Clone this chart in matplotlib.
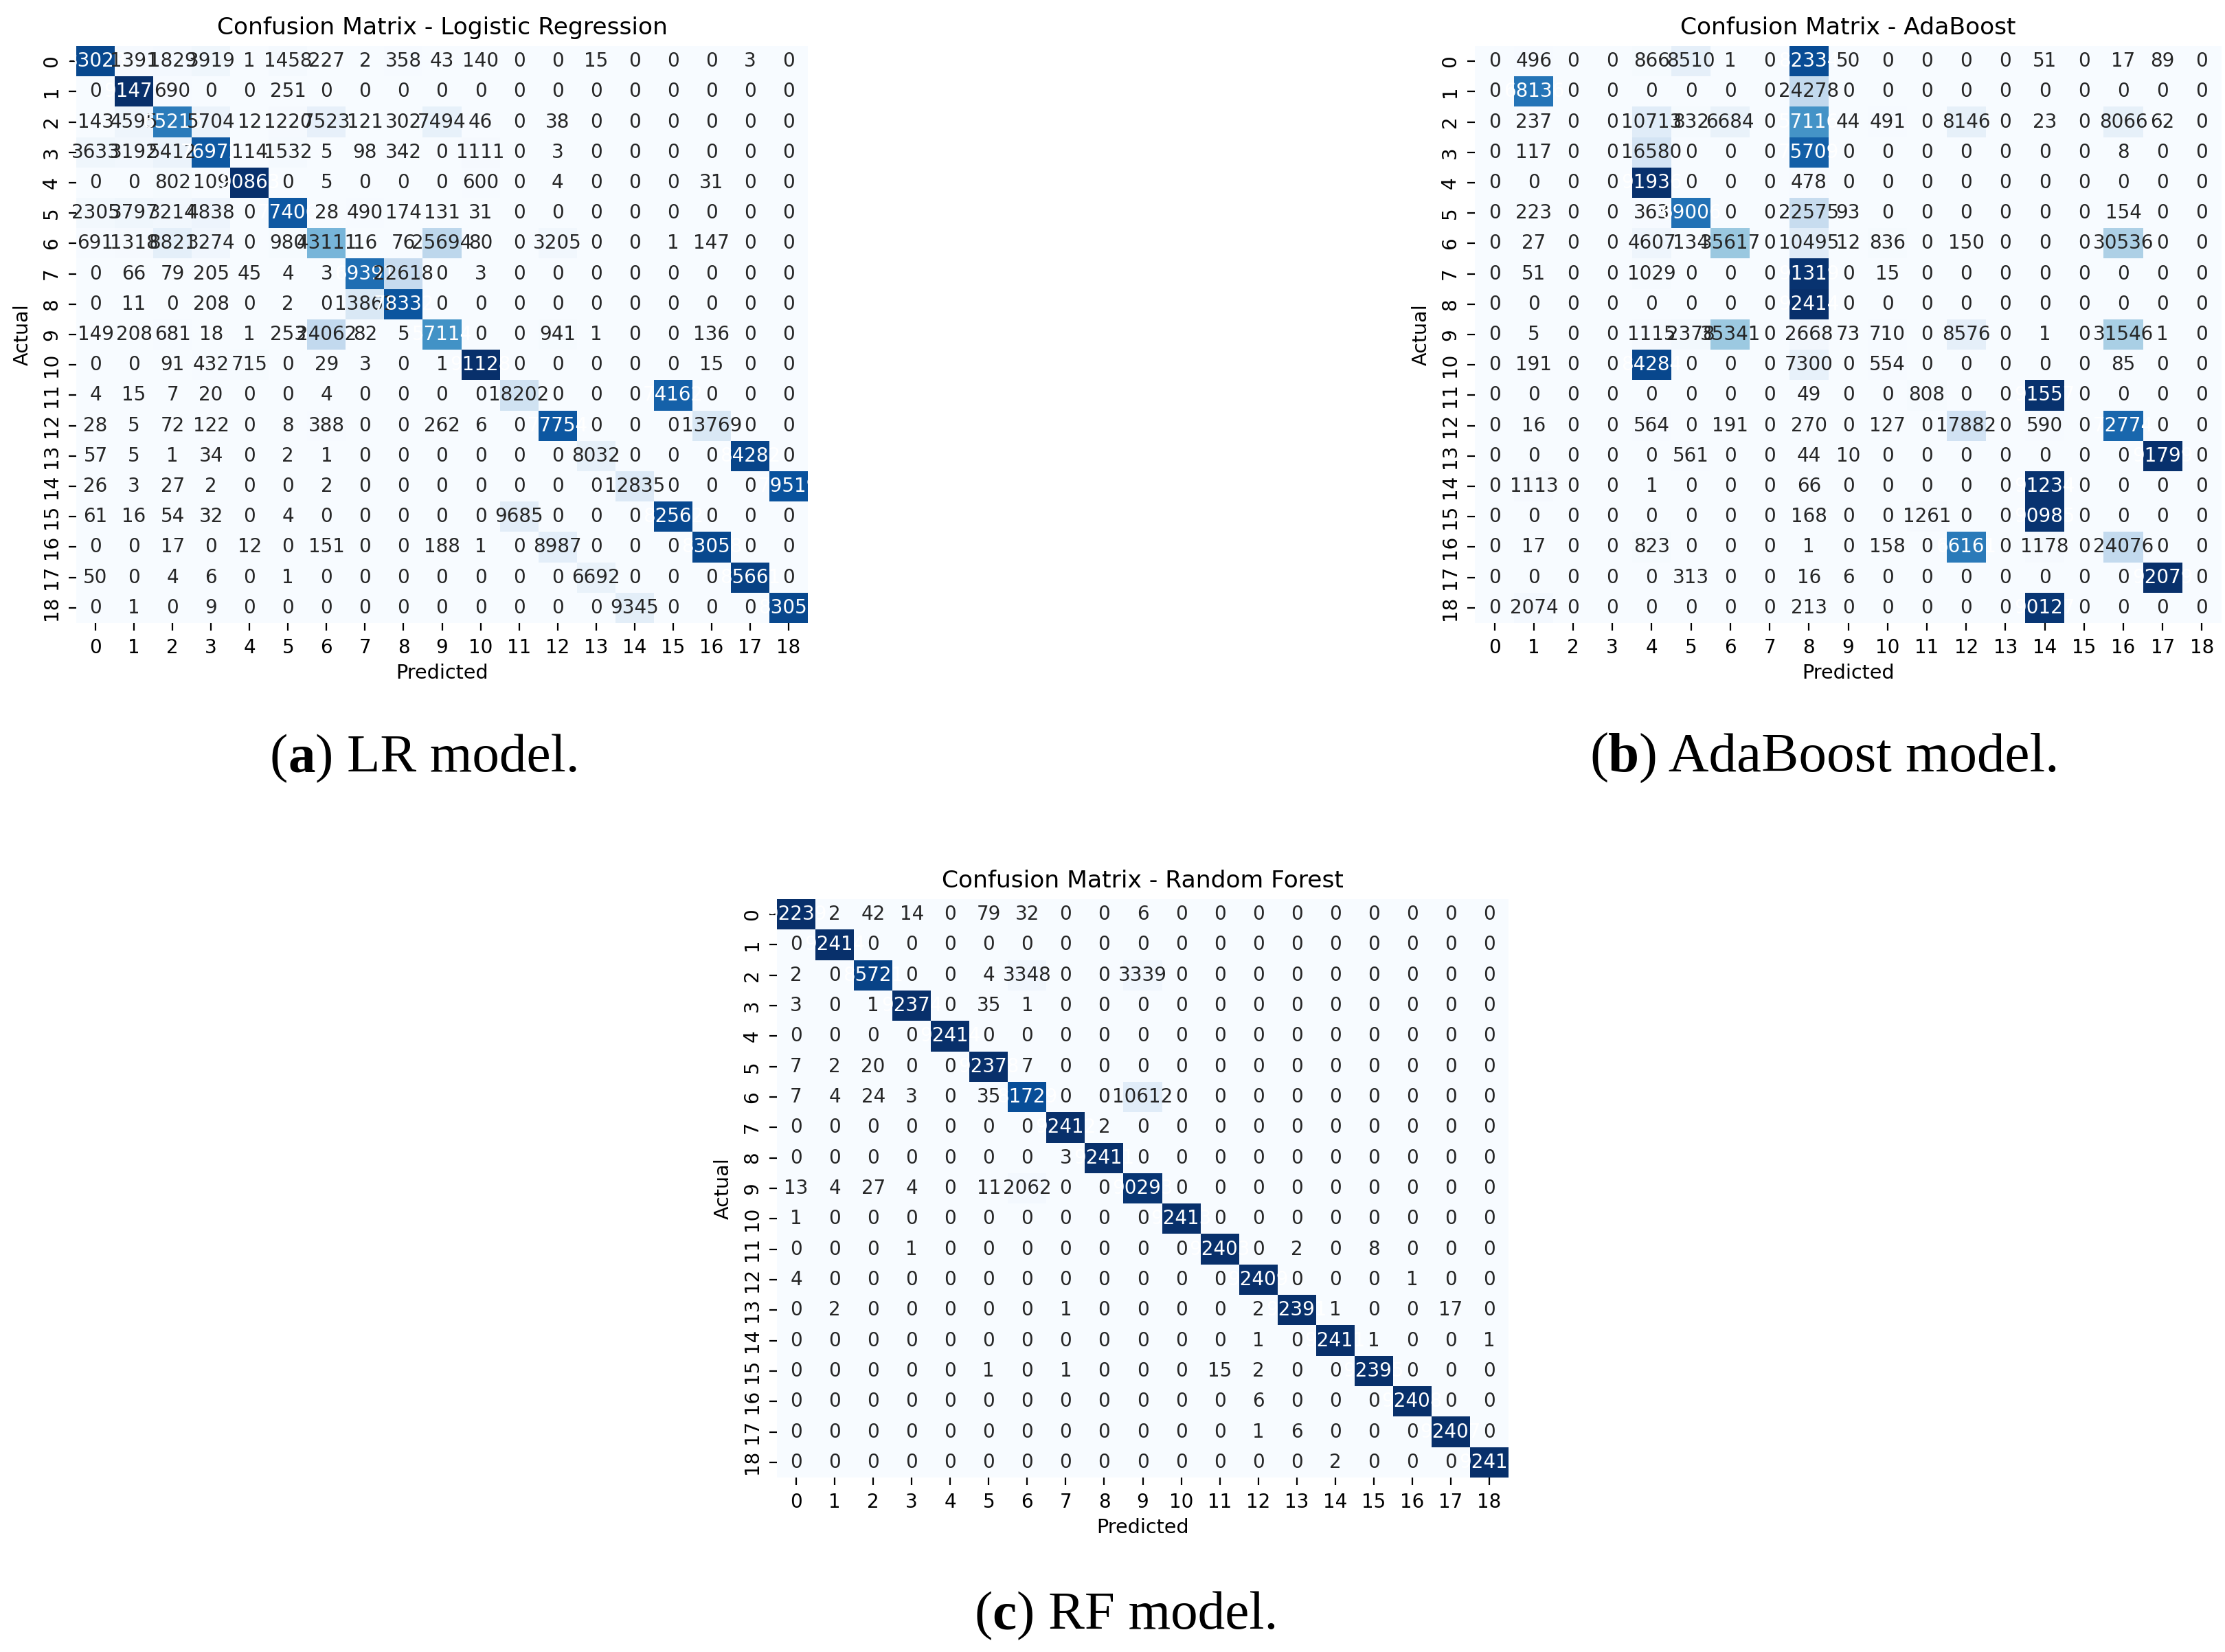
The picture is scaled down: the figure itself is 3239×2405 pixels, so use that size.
import matplotlib
matplotlib.use('Agg')

import matplotlib.pyplot as plt
import numpy as np
import seaborn as sns

W, H = 3239, 2405

labels = list(range(19))

cm_lr = np.array([
    [83028, 1391, 1829, 3919, 1, 1458, 227, 2, 358, 43, 140, 0, 0, 15, 0, 0, 0, 3, 0],
    [0, 91473, 690, 0, 0, 251, 0, 0, 0, 0, 0, 0, 0, 0, 0, 0, 0, 0, 0],
    [143, 4595, 65216, 5704, 12, 1220, 7523, 121, 302, 7494, 46, 0, 38, 0, 0, 0, 0, 0, 0],
    [3633, 3192, 5412, 76972, 114, 1532, 5, 98, 342, 0, 1111, 0, 3, 0, 0, 0, 0, 0, 0],
    [0, 0, 802, 109, 90863, 0, 5, 0, 0, 0, 600, 0, 4, 0, 0, 0, 31, 0, 0],
    [2305, 3797, 3214, 4838, 0, 77406, 28, 490, 174, 131, 31, 0, 0, 0, 0, 0, 0, 0, 0],
    [691, 1318, 8821, 3274, 0, 980, 43111, 16, 76, 25694, 80, 0, 3205, 0, 0, 1, 147, 0, 0],
    [0, 66, 79, 205, 45, 4, 3, 69391, 22618, 0, 3, 0, 0, 0, 0, 0, 0, 0, 0],
    [0, 11, 0, 208, 0, 2, 0, 13861, 78332, 0, 0, 0, 0, 0, 0, 0, 0, 0, 0],
    [149, 208, 681, 18, 1, 253, 24062, 82, 5, 57114, 0, 0, 941, 1, 0, 0, 136, 0, 0],
    [0, 0, 91, 432, 715, 0, 29, 3, 0, 1, 91128, 0, 0, 0, 0, 0, 15, 0, 0],
    [4, 15, 7, 20, 0, 0, 4, 0, 0, 0, 0, 18202, 0, 0, 0, 74162, 0, 0, 0],
    [28, 5, 72, 122, 0, 8, 388, 0, 0, 262, 6, 0, 77754, 0, 0, 0, 13769, 0, 0],
    [57, 5, 1, 34, 0, 2, 1, 0, 0, 0, 0, 0, 0, 8032, 0, 0, 0, 84282, 0],
    [26, 3, 27, 2, 0, 0, 2, 0, 0, 0, 0, 0, 0, 0, 12835, 0, 0, 0, 79519],
    [61, 16, 54, 32, 0, 4, 0, 0, 0, 0, 0, 9685, 0, 0, 0, 82562, 0, 0, 0],
    [0, 0, 17, 0, 12, 0, 151, 0, 0, 188, 1, 0, 8987, 0, 0, 0, 83058, 0, 0],
    [50, 0, 4, 6, 0, 1, 0, 0, 0, 0, 0, 0, 0, 6692, 0, 0, 0, 85661, 0],
    [0, 1, 0, 9, 0, 0, 0, 0, 0, 0, 0, 0, 0, 0, 9345, 0, 0, 0, 83059],
])

cm_ada = np.array([
    [0, 496, 0, 0, 866, 8510, 1, 0, 82334, 50, 0, 0, 0, 0, 51, 0, 17, 89, 0],
    [0, 68136, 0, 0, 0, 0, 0, 0, 24278, 0, 0, 0, 0, 0, 0, 0, 0, 0, 0],
    [0, 237, 0, 0, 10713, 832, 6684, 0, 57116, 44, 491, 0, 8146, 0, 23, 0, 8066, 62, 0],
    [0, 117, 0, 0, 16580, 0, 0, 0, 75709, 0, 0, 0, 0, 0, 0, 0, 8, 0, 0],
    [0, 0, 0, 0, 91936, 0, 0, 0, 478, 0, 0, 0, 0, 0, 0, 0, 0, 0, 0],
    [0, 223, 0, 0, 363, 69006, 0, 0, 22575, 93, 0, 0, 0, 0, 0, 0, 154, 0, 0],
    [0, 27, 0, 0, 4607, 134, 35617, 0, 10495, 12, 836, 0, 150, 0, 0, 0, 30536, 0, 0],
    [0, 51, 0, 0, 1029, 0, 0, 0, 91319, 0, 15, 0, 0, 0, 0, 0, 0, 0, 0],
    [0, 0, 0, 0, 0, 0, 0, 0, 92414, 0, 0, 0, 0, 0, 0, 0, 0, 0, 0],
    [0, 5, 0, 0, 1115, 2378, 35341, 0, 2668, 73, 710, 0, 8576, 0, 1, 0, 31546, 1, 0],
    [0, 191, 0, 0, 84284, 0, 0, 0, 7300, 0, 554, 0, 0, 0, 0, 0, 85, 0, 0],
    [0, 0, 0, 0, 0, 0, 0, 0, 49, 0, 0, 808, 0, 0, 91557, 0, 0, 0, 0],
    [0, 16, 0, 0, 564, 0, 191, 0, 270, 0, 127, 0, 17882, 0, 590, 0, 72774, 0, 0],
    [0, 0, 0, 0, 0, 561, 0, 0, 44, 10, 0, 0, 0, 0, 0, 0, 0, 91799, 0],
    [0, 1113, 0, 0, 1, 0, 0, 0, 66, 0, 0, 0, 0, 0, 91234, 0, 0, 0, 0],
    [0, 0, 0, 0, 0, 0, 0, 0, 168, 0, 0, 1261, 0, 0, 90985, 0, 0, 0, 0],
    [0, 17, 0, 0, 823, 0, 0, 0, 1, 0, 158, 0, 66161, 0, 1178, 0, 24076, 0, 0],
    [0, 0, 0, 0, 0, 313, 0, 0, 16, 6, 0, 0, 0, 0, 0, 0, 0, 92079, 0],
    [0, 2074, 0, 0, 0, 0, 0, 0, 213, 0, 0, 0, 0, 0, 90127, 0, 0, 0, 0],
])

cm_rf = np.array([
    [92239, 2, 42, 14, 0, 79, 32, 0, 0, 6, 0, 0, 0, 0, 0, 0, 0, 0, 0],
    [0, 92414, 0, 0, 0, 0, 0, 0, 0, 0, 0, 0, 0, 0, 0, 0, 0, 0, 0],
    [2, 0, 85721, 0, 0, 4, 3348, 0, 0, 3339, 0, 0, 0, 0, 0, 0, 0, 0, 0],
    [3, 0, 1, 92374, 0, 35, 1, 0, 0, 0, 0, 0, 0, 0, 0, 0, 0, 0, 0],
    [0, 0, 0, 0, 92414, 0, 0, 0, 0, 0, 0, 0, 0, 0, 0, 0, 0, 0, 0],
    [7, 2, 20, 0, 0, 92378, 7, 0, 0, 0, 0, 0, 0, 0, 0, 0, 0, 0, 0],
    [7, 4, 24, 3, 0, 35, 81729, 0, 0, 10612, 0, 0, 0, 0, 0, 0, 0, 0, 0],
    [0, 0, 0, 0, 0, 0, 0, 92412, 2, 0, 0, 0, 0, 0, 0, 0, 0, 0, 0],
    [0, 0, 0, 0, 0, 0, 0, 3, 92411, 0, 0, 0, 0, 0, 0, 0, 0, 0, 0],
    [13, 4, 27, 4, 0, 11, 2062, 0, 0, 90293, 0, 0, 0, 0, 0, 0, 0, 0, 0],
    [1, 0, 0, 0, 0, 0, 0, 0, 0, 0, 92413, 0, 0, 0, 0, 0, 0, 0, 0],
    [0, 0, 0, 1, 0, 0, 0, 0, 0, 0, 0, 92403, 0, 2, 0, 8, 0, 0, 0],
    [4, 0, 0, 0, 0, 0, 0, 0, 0, 0, 0, 0, 92409, 0, 0, 0, 1, 0, 0],
    [0, 2, 0, 0, 0, 0, 0, 1, 0, 0, 0, 0, 2, 92391, 1, 0, 0, 17, 0],
    [0, 0, 0, 0, 0, 0, 0, 0, 0, 0, 0, 0, 1, 0, 92411, 1, 0, 0, 1],
    [0, 0, 0, 0, 0, 1, 0, 1, 0, 0, 0, 15, 2, 0, 0, 92395, 0, 0, 0],
    [0, 0, 0, 0, 0, 0, 0, 0, 0, 0, 0, 0, 6, 0, 0, 0, 92408, 0, 0],
    [0, 0, 0, 0, 0, 0, 0, 0, 0, 0, 0, 0, 1, 6, 0, 0, 0, 92407, 0],
    [0, 0, 0, 0, 0, 0, 0, 0, 0, 0, 0, 0, 0, 0, 2, 0, 0, 0, 92412],
])

fig = plt.figure(figsize=(W / 100, H / 100), dpi=100)
renderer = fig.canvas.get_renderer()


def draw_cm(cm, title, left, top, right, bottom):
    ax = fig.add_axes([left / W, 1 - bottom / H, (right - left) / W, (bottom - top) / H])
    sns.heatmap(cm, annot=True, fmt='d', cmap='Blues', cbar=False, ax=ax,
                xticklabels=labels, yticklabels=labels, annot_kws={'size': 20})
    ax.tick_params(axis='both', labelsize=20, length=8, width=1.6, pad=8)
    ax.set_title(title, fontsize=24.8, pad=12)
    ax.set_xlabel('Predicted', fontsize=20.6, labelpad=6)
    ax.set_ylabel('Actual', fontsize=20.6, labelpad=10)
    return ax


def caption(x, y, tag, rest, size=57):
    # bold letter inside the brackets, pieces share one baseline
    kw = dict(fontsize=size, family='Liberation Serif', va='baseline', ha='left')
    for s, weight in [('(', 'normal'), (tag, 'bold'), (') ' + rest, 'normal')]:
        t = fig.text(x / W, 1 - y / H, s, fontweight=weight, **kw)
        x = t.get_window_extent(renderer).x1


draw_cm(cm_lr, 'Confusion Matrix - Logistic Regression', 111, 67, 1176, 907)
draw_cm(cm_ada, 'Confusion Matrix - AdaBoost', 2147, 67, 3234, 907)
draw_cm(cm_rf, 'Confusion Matrix - Random Forest', 1131, 1309, 2196, 2151)

caption(393, 1123, 'a', 'LR model.')
caption(2314, 1123, 'b', 'AdaBoost model.', size=58.5)
caption(1418, 2371, 'c', 'RF model.')

plt.savefig('out.png', dpi=100)
